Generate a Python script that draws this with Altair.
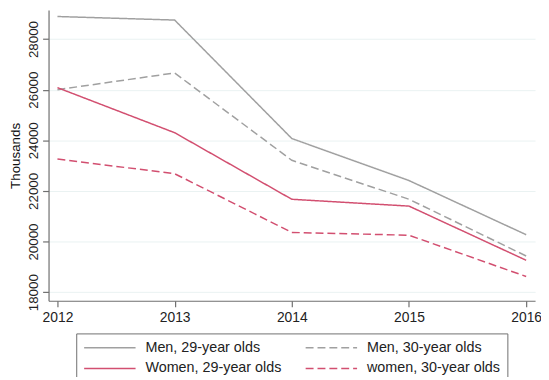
import altair as alt
import pandas as pd

years = [2012, 2013, 2014, 2015, 2016]
series_names = ["Men, 29-year olds", "Men, 30-year olds", "Women, 29-year olds", "women, 30-year olds"]
men_29 = [28890, 28750, 24070, 22410, 20270]
men_30 = [26000, 26660, 23210, 21670, 19430]
women_29 = [26080, 24300, 21670, 21400, 19260]
women_30 = [23260, 22680, 20360, 20250, 18620]
colors = ["#a0a0a0", "#a0a0a0", "#d24f70", "#d24f70"]
dashes = [[1, 0], [8, 4], [1, 0], [8, 4]]
y_ticks = [18000, 20000, 22000, 24000, 26000, 28000]

rows = []
for name, vals in zip(series_names, [men_29, men_30, women_29, women_30]):
    for yr, v in zip(years, vals):
        rows.append({"year": yr, "value": v, "series": name})
df = pd.DataFrame(rows)

font = "Liberation Sans"

chart = alt.Chart(df).mark_line(strokeWidth=1.5).encode(
    x=alt.X("year:Q",
            scale=alt.Scale(domain=[2011.924, 2016.076], nice=False, zero=False),
            axis=alt.Axis(values=years, format="d", title=None, grid=False,
                          labelFontSize=14, labelFont=font, labelColor="#222222",
                          domainColor="#6f6f6f", tickColor="#6f6f6f", tickSize=6,
                          labelPadding=4)),
    y=alt.Y("value:Q",
            scale=alt.Scale(domain=[17660, 29145], nice=False, zero=False),
            axis=alt.Axis(values=y_ticks, format="d", title="Thousands",
                          labelAngle=270, labelAlign="center", labelBaseline="bottom",
                          labelFontSize=13.5, labelFont=font, labelColor="#222222",
                          titleFont=font, titleFontSize=13.5, titleFontWeight="normal",
                          titleColor="#111111", titlePadding=4,
                          domainColor="#6f6f6f", tickColor="#6f6f6f", tickSize=6,
                          gridColor="#eaf2f2", labelPadding=2)),
    color=alt.Color("series:N",
                    scale=alt.Scale(domain=series_names, range=colors),
                    legend=alt.Legend(title=None, orient="none", legendX=28, legendY=327,
                                      direction="horizontal",
                                      columns=2, symbolType="M-1,0H7", symbolSize=169,
                                      symbolStrokeWidth=1.5, labelFontSize=14.5,
                                      labelFont=font, labelColor="#222222",
                                      labelLimit=300, columnPadding=21, rowPadding=6,
                                      strokeColor="#6f6f6f", padding=7, offset=0,
                                      labelOffset=48)),
    strokeDash=alt.StrokeDash("series:N",
                              scale=alt.Scale(domain=series_names, range=dashes),
                              legend=None),
).properties(
    width=492, height=294,
    padding={"left": 41, "top": 0, "right": 6, "bottom": 75},
    autosize=alt.AutoSizeParams(type="none"),
).configure_view(stroke=None).configure_axis(domainWidth=1.2, tickWidth=1.2)

chart.save("out.html", embed_options={"renderer": "svg", "actions": False})
